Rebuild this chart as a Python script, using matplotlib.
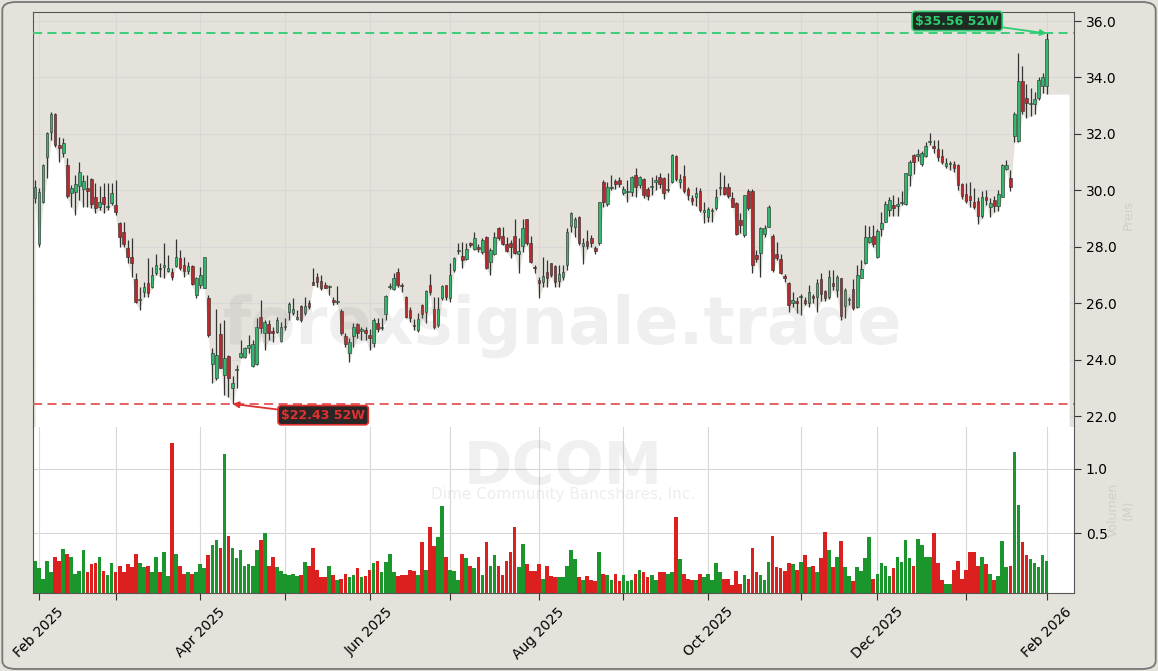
import numpy as np
import pandas as pd
import matplotlib
matplotlib.use("Agg")
import matplotlib.pyplot as plt
from matplotlib.patches import FancyBboxPatch

# trading calendar
start, end = "2025-01-31", "2026-02-02"
holidays = ["2025-02-17", "2025-04-18", "2025-05-26", "2025-06-19", "2025-07-04",
            "2025-09-01", "2025-11-27", "2025-12-25", "2026-01-01", "2026-01-19"]

opens = [29.71, 28.10, 29.60, 31.19, 32.08, 32.70, 31.60, 31.34, 30.90, 29.89,
         29.95, 30.15, 30.03, 30.08, 30.39, 29.77, 29.42, 29.75, 29.40, 29.56,
         29.47, 28.85, 28.51, 27.94, 27.62, 26.84, 26.10, 26.41, 26.72, 26.58,
         27.06, 27.26, 27.27, 27.15, 27.11, 27.33, 27.59, 27.35, 27.15, 27.32,
         26.29, 26.64, 26.52, 26.17, 23.86, 23.33, 24.89, 23.45, 24.12, 22.98,
         23.62, 24.08, 24.10, 24.40, 23.78, 23.83, 25.50, 24.93, 25.26, 25.02,
         24.99, 24.67, 25.14, 25.67, 25.64, 25.43, 25.90, 25.64, 26.01, 26.75,
         26.94, 26.80, 26.63, 26.57, 26.13, 26.04, 25.73, 24.85, 24.22, 24.85,
         25.25, 25.01, 25.05, 24.87, 24.60, 25.28, 25.12, 25.60, 26.56, 26.49,
         27.09, 26.62, 26.23, 25.75, 25.21, 25.05, 25.92, 25.70, 26.66, 25.78,
         25.22, 26.17, 26.64, 26.17, 27.17, 27.86, 27.67, 27.55, 28.12, 27.91,
         28.00, 27.82, 28.33, 27.47, 27.74, 28.65, 28.38, 28.10, 28.14, 28.38,
         27.76, 28.02, 28.97, 28.14, 27.28, 26.82, 26.76, 27.11, 27.41, 27.32,
         26.78, 26.94, 27.37, 28.73, 28.71, 29.06, 28.02, 28.20, 28.30, 27.97,
         28.12, 30.31, 29.50, 30.08, 30.33, 30.36, 29.89, 29.94, 29.95, 30.54,
         30.19, 30.39, 30.03, 30.12, 30.31, 30.46, 30.42, 30.00, 30.31, 31.21,
         30.31, 30.51, 30.03, 29.74, 29.75, 29.97, 29.24, 29.04, 29.26, 29.36,
         30.09, 30.13, 30.10, 29.71, 29.54, 28.95, 28.41, 29.99, 29.99, 27.70,
         27.79, 28.45, 28.71, 28.39, 27.76, 27.55, 26.97, 26.72, 26.02, 26.09,
         26.22, 26.13, 26.02, 26.25, 26.21, 26.87, 26.43, 26.21, 26.73, 26.47,
         26.90, 25.90, 26.10, 26.51, 25.88, 26.90, 27.43, 28.17, 28.37, 27.65,
         28.63, 28.89, 29.29, 29.48, 29.46, 29.56, 29.52, 30.53, 31.25, 31.23,
         30.92, 31.21, 31.72, 31.58, 31.45, 31.21, 30.86, 30.93, 30.92, 30.88,
         30.23, 29.87, 29.81, 29.58, 29.61, 29.09, 29.78, 29.42, 29.65, 29.44,
         29.78, 30.75, 30.43, 31.93, 31.75, 33.87, 33.28, 33.06, 33.06, 33.28,
         33.70, 33.70]

highs = [30.36, 30.07, 30.95, 32.08, 32.79, 32.73, 31.88, 31.84, 31.13, 30.19,
         30.54, 30.99, 30.54, 30.54, 30.42, 30.25, 30.15, 30.25, 30.25, 30.25,
         30.36, 28.89, 28.89, 28.24, 28.30, 27.06, 26.58, 26.76, 27.59, 27.29,
         27.76, 27.43, 28.12, 27.70, 27.23, 28.26, 27.88, 27.65, 27.45, 27.35,
         26.94, 27.29, 27.65, 26.29, 24.40, 25.78, 25.28, 25.40, 24.16, 23.42,
         23.81, 24.69, 24.46, 24.87, 24.69, 25.46, 26.11, 25.40, 25.40, 25.16,
         25.52, 25.34, 25.46, 26.05, 26.17, 25.75, 25.93, 26.23, 26.11, 27.23,
         27.06, 26.99, 26.76, 26.64, 26.23, 26.61, 25.78, 24.93, 24.75, 25.28,
         25.28, 25.16, 25.16, 25.10, 25.46, 25.46, 25.46, 26.29, 26.72, 27.06,
         27.23, 26.70, 26.25, 25.87, 25.43, 25.64, 25.97, 26.46, 27.02, 26.23,
         26.23, 26.64, 26.66, 27.41, 27.65, 28.12, 28.18, 28.12, 28.18, 28.53,
         28.08, 28.30, 28.38, 27.94, 28.53, 28.69, 28.69, 28.33, 28.24, 29.00,
         28.30, 29.00, 29.00, 28.38, 27.37, 26.94, 27.65, 27.53, 27.43, 27.35,
         27.35, 27.35, 28.65, 29.24, 29.04, 29.09, 28.30, 28.59, 28.41, 28.02,
         29.60, 30.36, 30.31, 30.54, 30.39, 30.46, 30.15, 30.36, 30.51, 30.78,
         30.51, 30.42, 30.13, 30.46, 30.54, 30.60, 30.46, 30.60, 31.29, 31.25,
         30.57, 30.90, 30.13, 29.83, 30.13, 30.07, 29.60, 29.42, 29.36, 30.03,
         30.66, 30.54, 30.27, 29.95, 29.60, 29.18, 29.83, 30.03, 30.03, 27.88,
         28.69, 28.77, 29.48, 28.44, 28.18, 27.76, 27.02, 26.76, 26.41, 26.23,
         26.32, 26.23, 26.64, 26.34, 26.87, 27.06, 26.47, 27.19, 27.19, 26.99,
         26.90, 26.54, 26.21, 26.87, 27.35, 27.52, 28.76, 28.74, 28.76, 28.63,
         29.22, 29.61, 29.78, 29.85, 29.78, 29.97, 30.62, 31.09, 31.28, 31.45,
         31.41, 31.71, 32.04, 31.77, 31.80, 31.45, 31.15, 31.03, 31.05, 30.92,
         30.27, 30.27, 30.31, 30.07, 29.75, 29.97, 30.01, 29.71, 29.81, 30.01,
         30.92, 31.08, 30.73, 32.78, 34.85, 34.39, 33.76, 33.61, 33.48, 34.00,
         34.16, 35.56]

lows = [29.54, 28.00, 29.55, 30.42, 31.78, 31.55, 31.01, 31.19, 29.71, 29.42,
        29.12, 29.65, 29.42, 29.42, 29.36, 29.18, 29.30, 29.18, 29.30, 29.48,
        29.12, 28.00, 28.00, 27.41, 26.94, 25.99, 25.76, 26.23, 26.23, 26.52,
        27.00, 26.94, 26.88, 27.11, 26.82, 27.29, 27.17, 26.94, 27.05, 26.64,
        26.17, 26.52, 26.52, 24.81, 23.16, 23.27, 23.69, 22.74, 22.68, 22.43,
        22.98, 24.04, 24.04, 24.22, 23.75, 23.81, 24.93, 24.34, 24.69, 24.63,
        24.93, 24.63, 25.05, 25.40, 25.58, 25.40, 25.34, 25.58, 25.81, 26.64,
        26.58, 26.46, 26.52, 26.29, 25.93, 25.97, 24.87, 24.45, 23.92, 24.45,
        24.75, 24.69, 24.69, 24.34, 24.45, 24.99, 25.05, 25.40, 26.49, 26.46,
        26.58, 26.40, 25.46, 25.34, 25.05, 24.99, 25.46, 25.28, 26.29, 25.10,
        25.16, 26.11, 26.11, 26.05, 27.11, 27.76, 27.23, 27.53, 27.98, 27.88,
        27.82, 27.76, 27.20, 26.99, 27.70, 28.24, 28.06, 27.82, 27.59, 27.76,
        27.06, 27.82, 28.06, 27.41, 27.08, 26.17, 26.58, 26.58, 26.94, 26.58,
        26.58, 26.82, 27.17, 28.53, 28.35, 28.06, 27.39, 27.91, 28.00, 27.76,
        28.06, 29.42, 29.44, 30.01, 30.03, 30.13, 29.83, 29.60, 29.80, 29.77,
        30.07, 29.71, 29.66, 29.83, 30.01, 30.07, 29.68, 29.95, 30.27, 30.34,
        30.07, 29.91, 29.66, 29.48, 29.44, 29.24, 28.85, 28.89, 28.89, 29.30,
        29.83, 29.83, 29.71, 29.42, 28.41, 28.47, 28.35, 29.30, 27.08, 27.47,
        26.94, 28.33, 28.69, 27.11, 27.53, 27.03, 26.76, 25.70, 25.87, 25.64,
        25.58, 25.93, 25.87, 26.01, 25.69, 26.08, 26.08, 26.15, 26.47, 26.21,
        25.39, 25.49, 25.95, 25.75, 25.84, 26.90, 27.39, 28.13, 27.98, 27.59,
        28.37, 28.86, 29.09, 29.09, 29.09, 29.48, 29.48, 30.14, 30.57, 31.05,
        30.86, 31.19, 31.62, 31.32, 31.05, 30.92, 30.79, 30.73, 30.66, 30.01,
        29.68, 29.55, 29.42, 29.35, 28.79, 29.03, 29.48, 29.05, 29.22, 29.26,
        29.75, 30.73, 29.97, 31.71, 31.71, 32.69, 32.56, 32.63, 32.69, 33.21,
        33.44, 33.41]

closes = [30.13, 29.95, 30.90, 32.02, 32.70, 31.60, 31.49, 31.66, 29.81, 30.07,
          30.21, 30.64, 30.33, 29.99, 29.50, 29.36, 29.57, 29.50, 29.44, 29.89,
          29.24, 28.36, 28.08, 27.65, 27.41, 26.05, 26.14, 26.56, 26.35, 27.00,
          27.35, 27.20, 27.35, 27.23, 26.91, 27.62, 27.23, 27.15, 27.30, 26.67,
          26.88, 27.00, 27.62, 24.87, 24.25, 24.16, 23.71, 24.05, 23.33, 23.18,
          23.68, 24.24, 24.40, 24.51, 24.57, 25.14, 25.13, 25.34, 24.93, 24.93,
          25.40, 25.16, 25.18, 25.96, 25.79, 25.52, 25.40, 25.91, 25.87, 26.64,
          26.76, 26.52, 26.55, 26.60, 26.05, 26.06, 24.93, 24.57, 24.63, 25.16,
          24.93, 25.07, 24.95, 24.75, 25.40, 25.07, 25.14, 26.25, 26.60, 26.90,
          26.64, 26.60, 25.52, 25.46, 25.19, 25.44, 25.60, 26.43, 26.40, 25.16,
          25.81, 26.61, 26.23, 26.99, 27.59, 27.90, 27.53, 27.91, 28.06, 28.30,
          27.91, 28.24, 27.23, 27.88, 28.33, 28.30, 28.10, 27.86, 28.00, 27.79,
          27.86, 28.65, 28.14, 27.47, 27.26, 26.70, 26.96, 26.90, 27.00, 26.76,
          27.04, 27.09, 28.51, 29.21, 28.98, 28.12, 28.15, 28.02, 28.12, 27.86,
          29.57, 29.57, 30.13, 30.12, 30.21, 30.21, 30.03, 29.96, 30.46, 30.10,
          30.46, 29.83, 29.80, 30.14, 30.36, 30.22, 29.89, 30.02, 31.25, 30.39,
          30.40, 29.99, 29.83, 29.63, 29.89, 29.32, 29.32, 29.34, 29.28, 29.75,
          30.11, 29.87, 29.80, 29.42, 28.45, 28.77, 29.83, 29.36, 27.35, 27.55,
          28.65, 28.65, 29.42, 27.17, 27.59, 27.06, 26.88, 25.93, 26.11, 26.02,
          26.24, 25.99, 26.38, 26.17, 26.73, 26.34, 26.17, 26.93, 26.60, 26.93,
          25.56, 26.45, 26.14, 25.82, 26.99, 27.22, 28.34, 28.33, 28.11, 28.57,
          28.83, 29.51, 29.65, 29.39, 29.50, 29.60, 30.60, 30.99, 30.99, 31.27,
          31.32, 31.58, 31.76, 31.49, 31.19, 30.99, 30.96, 30.96, 30.79, 30.20,
          29.81, 29.61, 29.65, 29.42, 29.09, 29.78, 29.65, 29.55, 29.44, 29.87,
          30.88, 30.88, 30.11, 32.72, 33.87, 32.80, 33.08, 33.10, 33.24, 33.91,
          34.03, 35.35]

# volume in millions
volumes = [0.29, 0.23, 0.15, 0.29, 0.20, 0.32, 0.29, 0.38, 0.34, 0.32,
           0.19, 0.21, 0.37, 0.20, 0.26, 0.27, 0.32, 0.21, 0.18, 0.27,
           0.20, 0.25, 0.20, 0.26, 0.24, 0.34, 0.27, 0.24, 0.25, 0.20,
           0.32, 0.20, 0.36, 0.17, 1.20, 0.34, 0.25, 0.19, 0.20, 0.19,
           0.20, 0.26, 0.23, 0.33, 0.41, 0.45, 0.39, 1.11, 0.48, 0.39,
           0.31, 0.37, 0.25, 0.26, 0.25, 0.37, 0.45, 0.50, 0.25, 0.32,
           0.24, 0.21, 0.19, 0.18, 0.19, 0.17, 0.18, 0.28, 0.25, 0.39,
           0.22, 0.16, 0.16, 0.25, 0.18, 0.14, 0.15, 0.19, 0.16, 0.18,
           0.23, 0.16, 0.17, 0.22, 0.27, 0.29, 0.20, 0.28, 0.34, 0.20,
           0.17, 0.18, 0.18, 0.22, 0.21, 0.18, 0.43, 0.22, 0.55, 0.40,
           0.47, 0.71, 0.32, 0.22, 0.21, 0.14, 0.34, 0.31, 0.25, 0.23,
           0.32, 0.18, 0.43, 0.25, 0.33, 0.25, 0.18, 0.29, 0.36, 0.55,
           0.24, 0.42, 0.26, 0.21, 0.21, 0.26, 0.15, 0.25, 0.17, 0.16,
           0.16, 0.16, 0.25, 0.37, 0.30, 0.16, 0.14, 0.17, 0.14, 0.13,
           0.36, 0.19, 0.18, 0.14, 0.19, 0.13, 0.18, 0.13, 0.14, 0.19,
           0.22, 0.20, 0.16, 0.18, 0.14, 0.20, 0.20, 0.19, 0.20, 0.63,
           0.30, 0.19, 0.15, 0.14, 0.14, 0.19, 0.16, 0.19, 0.14, 0.27,
           0.20, 0.15, 0.15, 0.10, 0.21, 0.11, 0.18, 0.15, 0.39, 0.20,
           0.18, 0.14, 0.28, 0.48, 0.24, 0.23, 0.21, 0.27, 0.26, 0.22,
           0.28, 0.33, 0.24, 0.25, 0.20, 0.31, 0.51, 0.37, 0.24, 0.32,
           0.44, 0.24, 0.17, 0.13, 0.24, 0.21, 0.31, 0.47, 0.15, 0.19,
           0.27, 0.25, 0.17, 0.23, 0.32, 0.28, 0.45, 0.31, 0.25, 0.46,
           0.41, 0.32, 0.32, 0.50, 0.27, 0.14, 0.11, 0.11, 0.22, 0.29,
           0.15, 0.22, 0.36, 0.36, 0.25, 0.32, 0.26, 0.19, 0.14, 0.17,
           0.44, 0.24, 0.25, 1.13, 0.72, 0.43, 0.33, 0.30, 0.27, 0.24,
           0.33, 0.29]

high_52w = 35.56
low_52w = 22.43
ticker = "DCOM"
company = "Dime Community Bancshares, Inc."
watermark = "forexsignale.trade"

dates = pd.bdate_range(start, end)
dates = dates[~dates.isin(pd.to_datetime(holidays))]

o = np.array(opens)
h = np.array(highs)
l = np.array(lows)
c = np.array(closes)
v = np.array(volumes)
x = np.arange(len(c))
up = c >= o

bg = "#e5e2dc"
green_body = "#30b86c"
red_body = "#b8292b"
vol_green = "#1a962c"
vol_red = "#dc2020"

fig = plt.figure(figsize=(11.58, 6.71), dpi=100, facecolor=bg)
ax = fig.add_axes([0.0285, 0.3636, 0.899, 0.6185])
axv = fig.add_axes([0.0285, 0.1162, 0.899, 0.2474], sharex=ax)

# price panel
ax.set_facecolor(bg)
ax.set_ylim(21.61, 36.32)
x_fill = np.append(x, 256.6)
l_fill = np.append(l, l[-1])
ax.fill_between(x_fill, l_fill, 21.61, color="white", zorder=1, lw=0)
ax.grid(True, color="#d8d8d8", lw=0.8, zorder=0)
ax.set_axisbelow(True)

ax.vlines(x, l, h, color="#333333", lw=0.9, zorder=3)
body_h = np.maximum(np.abs(c - o), 0.03)
ax.bar(x, body_h, bottom=np.minimum(o, c), width=0.65,
       color=np.where(up, green_body, red_body), edgecolor="#2a2a2a",
       linewidth=0.4, zorder=4)

ax.axhline(high_52w, color="#2ecc71", ls=(0, (5, 3)), lw=1.3, zorder=5)
ax.axhline(low_52w, color="#e05555", ls=(0, (5, 3)), lw=1.3, zorder=5)

i_hi = int(np.argmax(h))
i_lo = int(np.argmin(l))
ax.annotate(f"${high_52w:.2f} 52W", xy=(i_hi, high_52w), xytext=(228.8, 36.0),
            ha="center", va="center", fontsize=9, fontweight="bold", color="#2ecc71",
            bbox=dict(boxstyle="round,pad=0.25", fc="#1d2b23", ec="#2ecc71", lw=1.2),
            arrowprops=dict(arrowstyle="-|>", color="#2ecc71", lw=1.3,
                            shrinkA=0, shrinkB=0), zorder=7)
ax.annotate(f"${low_52w:.2f} 52W", xy=(i_lo, low_52w), xytext=(71.5, 22.03),
            ha="center", va="center", fontsize=9, fontweight="bold", color="#e03030",
            bbox=dict(boxstyle="round,pad=0.25", fc="#2b2626", ec="#e03030", lw=1.2),
            arrowprops=dict(arrowstyle="-|>", color="#e03030", lw=1.3,
                            shrinkA=0, shrinkB=0), zorder=7)

ax.yaxis.tick_right()
ax.set_yticks(np.arange(22, 37, 2))
ax.set_yticklabels([f"{t:.1f}" for t in np.arange(22, 37, 2)])
ax.tick_params(axis="y", labelsize=10, length=5, color="#333333")
ax.tick_params(axis="x", bottom=False, labelbottom=False)
ax.spines["bottom"].set_visible(False)
for s in ["left", "right", "top"]:
    ax.spines[s].set_color("#555555")

# volume panel
axv.set_facecolor("white")
axv.bar(x, v, width=0.92, color=np.where(up, vol_green, vol_red), zorder=2)
axv.set_ylim(0.04, 1.32)
axv.grid(True, color="#d8d8d8", lw=0.8, zorder=0)
axv.set_axisbelow(True)
axv.yaxis.tick_right()
axv.set_yticks([0.5, 1.0])
axv.set_yticklabels(["0.5", "1.0"])
axv.tick_params(axis="y", labelsize=10, length=5, color="#333333")
axv.spines["top"].set_visible(False)
for s in ["left", "right", "bottom"]:
    axv.spines[s].set_color("#555555")

# month ticks, label every other month
tick_pos, tick_lab = [], []
for i in range(1, len(dates)):
    if dates[i].month != dates[i - 1].month:
        tick_pos.append(i)
        tick_lab.append(dates[i].strftime("%b %Y") if dates[i].month % 2 == 0 else "")
axv.set_xticks(tick_pos)
axv.set_xticklabels(tick_lab, rotation=45, ha="center", fontsize=10)
axv.tick_params(axis="x", length=5, color="#333333")
ax.set_xlim(-0.5, 257.8)

# watermarks
fig.text(0.486, 0.515, watermark, fontsize=47, fontweight="bold", color="#888888",
         alpha=0.13, ha="center", va="center", zorder=10)
fig.text(0.486, 0.279, ticker, fontsize=42, fontweight="bold", color="#888888",
         alpha=0.12, ha="center", va="baseline", zorder=10)
fig.text(0.486, 0.263, company, fontsize=11, color="#888888",
         alpha=0.15, ha="center", va="center", zorder=10)

fig.text(0.974, 0.68, "Preis", rotation=90, fontsize=9, color="#d2cfc9",
         ha="center", va="center")
fig.text(0.968, 0.24, "Volumen\n(M)", rotation=90, fontsize=9, color="#d2cfc9",
         ha="center", va="center", multialignment="center")

border = FancyBboxPatch((0.002, 0.003), 0.996, 0.994, boxstyle="round,pad=0,rounding_size=0.012",
                        transform=fig.transFigure, fc="none", ec="#777777", lw=1.3)
fig.patches.append(border)

fig.savefig("out.png", dpi=100, facecolor=bg)
